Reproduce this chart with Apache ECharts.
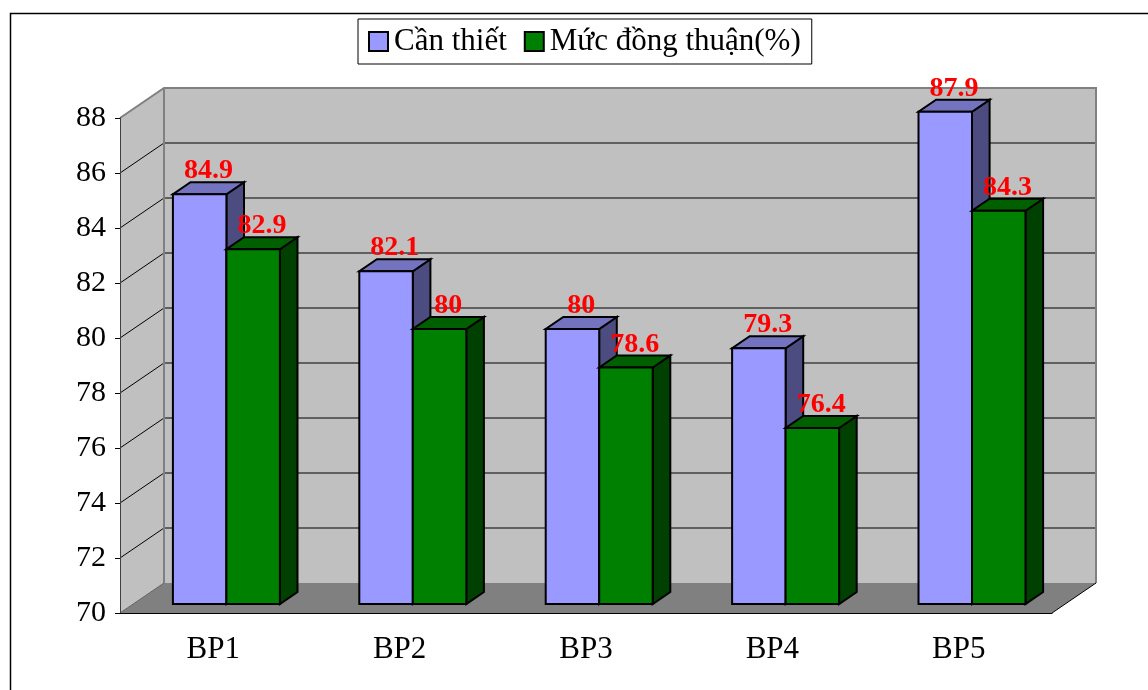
<!DOCTYPE html>
<html>
<head>
<meta charset="utf-8">
<script src="https://cdn.jsdelivr.net/npm/echarts@6/dist/echarts.min.js"></script>
<style>
  html, body { margin: 0; padding: 0; background: #fff; }
  #chart { width: 1148px; height: 690px; }
</style>
</head>
<body>
<div id="chart"></div>
<script>
// Survey results per group
const categories = ['BP1', 'BP2', 'BP3', 'BP4', 'BP5'];
const canThiet = [84.9, 82.1, 80, 79.3, 87.9];
const mucDongThuan = [82.9, 80, 78.6, 76.4, 84.3];
const seriesNames = ['Cần thiết', 'Mức đồng thuận(%)'];
const yTicks = [70, 72, 74, 76, 78, 80, 82, 84, 86, 88];

const Y_MIN = yTicks[0];
const Y_MAX = yTicks[yTicks.length - 1];

// pseudo-3D projection: depth offset of the back wall in pixels
const DX = 44, DY = -30;
const D0 = 0.3, D1 = 0.7;       // bar front / back depth fraction
const BAR_FRAC = 0.287;         // bar width as a fraction of the category band
const FONT = '"Liberation Serif", "Times New Roman", serif';

const palette = [
  { front: '#9999ff', top: '#7373bf', side: '#4c4c80' },
  { front: '#008000', top: '#006000', side: '#004000' }
];

function wallsRender(params, api) {
  const cs = params.coordSys;
  const x0 = cs.x, x1 = cs.x + cs.width;
  const yb = api.coord([0, Y_MIN])[1];
  const yt = api.coord([0, Y_MAX])[1];
  const children = [];
  // floor
  children.push({ type: 'polygon', shape: { points: [[x0, yb], [x1, yb], [x1 + DX, yb + DY], [x0 + DX, yb + DY]] },
    style: { fill: '#808080', stroke: null } });
  // side wall
  children.push({ type: 'polygon', shape: { points: [[x0, yt], [x0 + DX, yt + DY], [x0 + DX, yb + DY], [x0, yb]] },
    style: { fill: '#c0c0c0', stroke: null } });
  // back wall
  children.push({ type: 'rect', shape: { x: x0 + DX, y: yt + DY, width: x1 - x0, height: yb - yt },
    style: { fill: '#c0c0c0', stroke: null } });
  // grid lines on the back and side walls
  yTicks.forEach(function (v) {
    if (v === Y_MIN || v === Y_MAX) return;
    const y = api.coord([0, v])[1];
    children.push({ type: 'line', shape: { x1: x0 + DX, y1: y + DY, x2: x1 + DX, y2: y + DY },
      style: { stroke: '#000', lineWidth: 1 } });
    children.push({ type: 'line', shape: { x1: x0, y1: y, x2: x0 + DX, y2: y + DY },
      style: { stroke: '#000', lineWidth: 1 } });
  });
  // wall edges
  children.push({ type: 'polyline', shape: { points: [[x0, yt], [x0 + DX, yt + DY], [x1 + DX, yt + DY], [x1 + DX, yb + DY]] },
    style: { stroke: '#808080', lineWidth: 2, fill: null } });
  children.push({ type: 'line', shape: { x1: x0 + DX, y1: yt + DY, x2: x0 + DX, y2: yb + DY },
    style: { stroke: '#808080', lineWidth: 2 } });
  children.push({ type: 'line', shape: { x1: x0, y1: yb, x2: x0 + DX, y2: yb + DY },
    style: { stroke: '#606060', lineWidth: 1 } });
  children.push({ type: 'line', shape: { x1: x1, y1: yb, x2: x1 + DX, y2: yb + DY },
    style: { stroke: '#000', lineWidth: 1 } });
  return { type: 'group', children: children };
}

function makeBarRender(slot) {
  const col = palette[slot];
  return function (params, api) {
    const i = api.value(0), v = api.value(1);
    const band = api.size([1, 0])[0];
    const w = band * BAR_FRAC;
    const c = api.coord([i, v]);
    const base = api.coord([i, Y_MIN])[1];
    const L = slot === 0 ? c[0] - w : c[0];
    const R = L + w;
    const top = c[1];
    const ax = D0 * DX, ay = D0 * DY, bx = D1 * DX, by = D1 * DY;
    const stroke = { stroke: '#000', lineWidth: 2, lineJoin: 'miter' };
    return {
      type: 'group',
      children: [
        { type: 'polygon', shape: { points: [[R + ax, top + ay], [R + bx, top + by], [R + bx, base + by], [R + ax, base + ay]] },
          style: Object.assign({ fill: col.side }, stroke) },
        { type: 'polygon', shape: { points: [[L + ax, top + ay], [R + ax, top + ay], [R + bx, top + by], [L + bx, top + by]] },
          style: Object.assign({ fill: col.top }, stroke) },
        { type: 'rect', shape: { x: L + ax, y: top + ay, width: w, height: base - top },
          style: Object.assign({ fill: col.front }, stroke) },
        { type: 'text', z2: 10,
          style: { text: String(v), x: (L + R) / 2 + (ax + bx) / 2, y: top + by + 3,
            align: 'center', verticalAlign: 'bottom',
            fill: '#ff0000', font: 'bold 28px ' + FONT } }
      ]
    };
  };
}

const chart = echarts.init(document.getElementById('chart'), null, { renderer: 'canvas' });
chart.setOption({
  animation: false,
  backgroundColor: '#ffffff',
  graphic: [{
    type: 'rect', left: 8, top: 11, silent: true, z: -10,
    shape: { width: 1200, height: 720 },
    style: { fill: null, stroke: '#000', lineWidth: 1.5 }
  }],
  legend: {
    data: seriesNames,
    left: 358, top: 19,
    padding: [7, 11, 7, 10],
    itemGap: 17,
    itemWidth: 19, itemHeight: 19,
    icon: 'rect',
    borderColor: '#000', borderWidth: 1,
    backgroundColor: '#fff',
    selectedMode: false,
    itemStyle: { borderColor: '#000', borderWidth: 2 },
    textStyle: { fontFamily: FONT, fontSize: 31, color: '#000', padding: [0, 0, 0, 1] }
  },
  grid: { left: 120, right: 96, top: 118, bottom: 77, containLabel: false },
  xAxis: {
    type: 'category',
    data: categories,
    z: 5,
    axisLine: { lineStyle: { color: '#000', width: 1 } },
    axisTick: { length: 8, lineStyle: { color: '#000' } },
    axisLabel: { fontFamily: FONT, fontSize: 31, color: '#000', margin: 21 },
    splitLine: { show: false }
  },
  yAxis: {
    type: 'value',
    min: Y_MIN, max: Y_MAX, interval: 2,
    z: 5,
    axisLine: { show: true, lineStyle: { color: '#404040', width: 1 } },
    axisTick: { show: true, length: 5, lineStyle: { color: '#000' } },
    axisLabel: { fontFamily: FONT, fontSize: 30, color: '#000', margin: 14 },
    splitLine: { show: false }
  },
  series: [
    { type: 'custom', name: '__walls', silent: true, z: 1, renderItem: wallsRender,
      data: [[0, Y_MIN]], encode: { x: 0, y: 1 } },
    { type: 'custom', name: seriesNames[0], z: 3, renderItem: makeBarRender(0),
      itemStyle: { color: palette[0].front },
      data: canThiet.map(function (v, i) { return [i, v]; }), encode: { x: 0, y: 1 } },
    { type: 'custom', name: seriesNames[1], z: 4, renderItem: makeBarRender(1),
      itemStyle: { color: palette[1].front },
      data: mucDongThuan.map(function (v, i) { return [i, v]; }), encode: { x: 0, y: 1 } }
  ]
});
</script>
</body>
</html>
